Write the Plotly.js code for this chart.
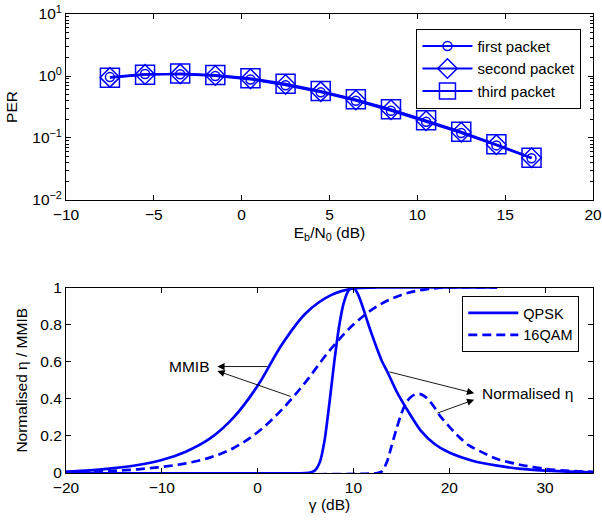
<!DOCTYPE html>
<html>
<head>
<meta charset="utf-8">
<script src="https://cdn.plot.ly/plotly-3.0.1.min.js"></script>
<style>html,body{margin:0;padding:0;background:#fff;}#chart{width:602px;height:522px;}</style>
</head>
<body>
<div id="chart"></div>
<script>
// ---- Top chart: PER vs Eb/N0 ----
var ebn0 = [-7.5, -5.5, -3.5, -1.5, 0.5, 2.5, 4.5, 6.5, 8.5, 10.5, 12.5, 14.5, 16.5];
var perFirst  = [0.96, 1.08, 1.07, 1.00, 0.88, 0.71, 0.545, 0.40, 0.275, 0.183, 0.120, 0.076, 0.047];
var perSecond = [0.95, 1.06, 1.08, 1.02, 0.90, 0.73, 0.560, 0.41, 0.285, 0.190, 0.124, 0.078, 0.048];
var perThird  = [0.94, 1.05, 1.10, 1.04, 0.92, 0.75, 0.575, 0.42, 0.290, 0.193, 0.126, 0.079, 0.048];
var topXTicks = [-10, -5, 0, 5, 10, 15, 20];
var topXText = ['\u221210', '\u22125', '0', '5', '10', '15', '20'];
var topYTicks = [0.01, 0.1, 1, 10];
var topYText = ['10<sup>\u22122</sup>', '10<sup>\u22121</sup>', '10<sup>0</sup>', '10<sup>1</sup>'];
var topYMinor = [0.02,0.03,0.04,0.05,0.06,0.07,0.08,0.09,0.2,0.3,0.4,0.5,0.6,0.7,0.8,0.9,2,3,4,5,6,7,8,9];

// ---- Bottom chart: normalised eta / MMIB vs gamma ----
var gMmibQ = [-20, -17.5, -15, -12.5, -10, -7.5, -5, -2.5, 0, 2.5, 5, 7.5, 10, 12.5, 15, 20, 25];
var mmibQ  = [0.007, 0.014, 0.026, 0.043, 0.07, 0.115, 0.185, 0.30, 0.47, 0.69, 0.86, 0.955, 0.995, 1, 1, 1, 1];
var gMmib16 = [-20, -17.5, -15, -12.5, -10, -7.5, -5, -2.5, 0, 2.5, 5, 7.5, 10, 12.5, 15, 17.5, 20, 25];
var mmib16  = [0.003, 0.006, 0.012, 0.02, 0.033, 0.052, 0.083, 0.135, 0.22, 0.34, 0.49, 0.66, 0.80, 0.90, 0.96, 0.99, 1, 1];
var gEtaQ = [-20, 5, 5.5, 6, 6.5, 7, 7.5, 8, 8.5, 9, 9.5, 10, 10.5, 11, 11.5, 12, 12.5, 13, 13.5, 14.5, 15.5, 17, 18.5, 20, 22.5, 25, 27.5, 30, 32.5, 35];
var etaQ  = [0, 0, 0.003, 0.015, 0.06, 0.18, 0.38, 0.60, 0.79, 0.92, 0.985, 1.0, 0.96, 0.89, 0.81, 0.735, 0.665, 0.60, 0.55, 0.44, 0.35, 0.23, 0.155, 0.11, 0.065, 0.04, 0.022, 0.013, 0.007, 0.004];
var gEta16 = [-20, 12.5, 13, 13.5, 14, 14.5, 15, 15.5, 16, 16.5, 17, 17.5, 18, 18.5, 19, 20, 21, 22, 23.5, 25, 27.5, 30, 32.5, 35];
var eta16  = [0, 0, 0.01, 0.06, 0.15, 0.24, 0.32, 0.38, 0.41, 0.425, 0.425, 0.41, 0.385, 0.35, 0.31, 0.25, 0.195, 0.15, 0.11, 0.075, 0.043, 0.022, 0.011, 0.006];
var botXTicks = [-20, -10, 0, 10, 20, 30];
var botXText = ['\u221220', '\u221210', '0', '10', '20', '30'];
var botYTicks = [0, 0.2, 0.4, 0.6, 0.8, 1];
var botYText = ['0', '0.2', '0.4', '0.6', '0.8', '1'];

var BLUE = '#0000ff';
var FONT = 'Liberation Sans, Arial, Helvetica, sans-serif';
var FS = 15.5;

var traces = [
  {x: ebn0, y: perFirst, name: 'first packet', mode: 'lines+markers', xaxis: 'x', yaxis: 'y', legend: 'legend',
   line: {color: BLUE, width: 2}, marker: {symbol: 'circle-open', size: 9, color: BLUE, line: {width: 1.5, color: BLUE}}},
  {x: ebn0, y: perSecond, name: 'second packet', mode: 'lines+markers', xaxis: 'x', yaxis: 'y', legend: 'legend',
   line: {color: BLUE, width: 2}, marker: {symbol: 'diamond-open', size: 15, color: BLUE, line: {width: 1.5, color: BLUE}}},
  {x: ebn0, y: perThird, name: 'third packet', mode: 'lines+markers', xaxis: 'x', yaxis: 'y', legend: 'legend',
   line: {color: BLUE, width: 2}, marker: {symbol: 'square-open', size: 19, color: BLUE, line: {width: 1.5, color: BLUE}}},
  {x: gMmibQ, y: mmibQ, name: 'QPSK', mode: 'lines', xaxis: 'x2', yaxis: 'y2', legend: 'legend2',
   line: {color: BLUE, width: 2.7, shape: 'spline', smoothing: 1}},
  {x: gMmib16, y: mmib16, name: '16QAM', mode: 'lines', xaxis: 'x2', yaxis: 'y2', legend: 'legend2',
   line: {color: BLUE, width: 2.7, dash: '9px,5px', shape: 'spline', smoothing: 1}},
  {x: gEtaQ, y: etaQ, name: 'QPSK η', mode: 'lines', xaxis: 'x2', yaxis: 'y2', showlegend: false,
   line: {color: BLUE, width: 2.7, shape: 'spline', smoothing: 0.6}},
  {x: gEta16, y: eta16, name: '16QAM η', mode: 'lines', xaxis: 'x2', yaxis: 'y2', showlegend: false,
   line: {color: BLUE, width: 2.7, dash: '9px,5px', shape: 'spline', smoothing: 0.6}}
];

var axisCommon = {
  showline: true, linecolor: '#000', linewidth: 1, mirror: 'ticks',
  ticks: 'inside', ticklen: 5, tickwidth: 1, tickcolor: '#000',
  showgrid: false, zeroline: false,
  tickfont: {family: FONT, size: FS, color: '#000'}
};
function ax(extra) { return Object.assign({}, axisCommon, extra); }

var arrowCommon = {xref: 'x2', yref: 'y2', axref: 'x2', ayref: 'y2', text: '', showarrow: true,
  arrowhead: 2, arrowsize: 1.6, arrowwidth: 0.9, arrowcolor: '#000'};

var layout = {
  width: 602, height: 522,
  margin: {l: 66, r: 9, t: 14, b: 49},
  paper_bgcolor: '#fff', plot_bgcolor: '#fff',
  font: {family: FONT, size: FS, color: '#000'},
  xaxis: ax({domain: [0, 1], anchor: 'y', range: [-10, 20], tickmode: 'array', tickvals: topXTicks, ticktext: topXText,
    title: {text: 'E<sub>b</sub>/N<sub>0</sub> (dB)', font: {family: FONT, size: FS}, standoff: 5}}),
  yaxis: ax({domain: [0.5948, 1], anchor: 'x', type: 'log', range: [-2, 1], tickmode: 'array', tickvals: topYTicks, ticktext: topYText,
    minor: {tickmode: 'array', tickvals: topYMinor, ticks: 'inside', ticklen: 3, tickcolor: '#000', tickwidth: 1},
    title: {text: 'PER', font: {family: FONT, size: FS}, standoff: 10}}),
  xaxis2: ax({domain: [0, 1], anchor: 'y2', range: [-20, 35], tickmode: 'array', tickvals: botXTicks, ticktext: botXText,
    title: {text: 'γ (dB)', font: {family: FONT, size: FS}, standoff: 3}}),
  yaxis2: ax({domain: [0, 0.4041], anchor: 'x2', range: [0, 1], tickmode: 'array', tickvals: botYTicks, ticktext: botYText,
    title: {text: 'Normalised η / MMIB', font: {family: FONT, size: FS}, standoff: 8}}),
  legend: {x: 0.665, y: 0.968, xanchor: 'left', yanchor: 'top', bgcolor: '#fff', bordercolor: '#000', borderwidth: 1,
    font: {family: FONT, size: 15}, itemwidth: 50, tracegroupgap: 0},
  legend2: {x: 0.752, y: 0.3856, xanchor: 'left', yanchor: 'top', bgcolor: '#fff', bordercolor: '#000', borderwidth: 1,
    font: {family: FONT, size: 14.5}, itemwidth: 50},
  showlegend: true,
  annotations: [
    Object.assign({}, arrowCommon, {x: -4.2, y: 0.574, ax: 1.2, ay: 0.574}),
    Object.assign({}, arrowCommon, {x: -4.2, y: 0.55, ax: 3.6, ay: 0.41}),
    Object.assign({}, arrowCommon, {x: 22.6, y: 0.43, ax: 13.6, ay: 0.547}),
    Object.assign({}, arrowCommon, {x: 22.6, y: 0.395, ax: 18.6, ay: 0.32}),
    {xref: 'x2', yref: 'y2', x: -4.9, y: 0.574, text: 'MMIB', showarrow: false, xanchor: 'right', yanchor: 'middle',
     font: {family: FONT, size: FS, color: '#000'}},
    {xref: 'x2', yref: 'y2', x: 23.2, y: 0.43, text: 'Normalised η', showarrow: false, xanchor: 'left', yanchor: 'middle',
     font: {family: FONT, size: FS, color: '#000'}}
  ]
};

Plotly.newPlot('chart', traces, layout, {displayModeBar: false, staticPlot: true});
</script>
</body>
</html>
